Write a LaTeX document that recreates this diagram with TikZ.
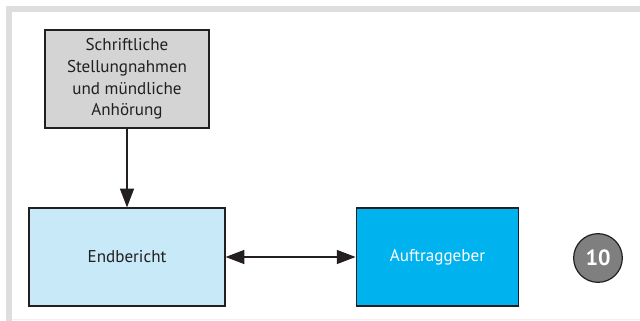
\documentclass[tikz,border=0pt]{standalone}
\usepackage{fontspec}
\setmainfont{PT Sans}
\usetikzlibrary{arrows.meta}
\definecolor{framegray}{HTML}{DEDEDE}
\definecolor{boxgray}{HTML}{D4D4D4}
\definecolor{paleblue}{HTML}{C8E9F8}
\definecolor{strongblue}{HTML}{00B2EE}
\definecolor{badgegray}{HTML}{7F7F7F}
\definecolor{inkgray}{HTML}{231F20}
\begin{document}
\begin{tikzpicture}[x=0.75pt,y=-0.75pt,
  stepbox/.style={draw=inkgray, line width=0.9pt, align=center,
    font=\fontsize{12.8}{16.2}\selectfont, text=inkgray, inner sep=0pt},
  link/.style={draw=inkgray, line width=0.8pt},
  tip/.style={-{Triangle[length=14pt,width=10.5pt]}},
  dtip/.style={{Triangle[length=14pt,width=10.5pt]}-{Triangle[length=14pt,width=10.5pt]}}]
  \useasboundingbox (0,0) rectangle (640,321);
  % L-shaped frame and faint bottom rule
  \fill[framegray] (6,6) rectangle (640,12);
  \fill[framegray] (6,6) rectangle (12,321);
  \draw[color=black!6, line width=0.75pt] (12,319.5) -- (640,319.5);
  % boxes
  \node[stepbox, fill=boxgray, minimum width=123pt, minimum height=73.5pt]
    (hearing) at (127,79) {Schriftliche\\Stellungnahmen\\und mündliche\\Anhörung};
  \node[stepbox, fill=paleblue, minimum width=147pt, minimum height=73.5pt]
    (report) at (127,257) {Endbericht};
  \node[stepbox, fill=strongblue, text=white, minimum width=122pt, minimum height=73.5pt]
    (client) at (437.5,257) {Auftraggeber};
  % numbered badge
  \node[circle, draw=inkgray, line width=0.9pt, fill=badgegray, minimum size=36.5pt,
    inner sep=0pt, text=white, font=\fontsize{16.5}{16.5}\selectfont\bfseries]
    (badge) at (598,258) {10};
  % connectors
  \draw[link, tip] (hearing) -- (report);
  \draw[link, dtip] (report) -- (client);
\end{tikzpicture}
\end{document}
